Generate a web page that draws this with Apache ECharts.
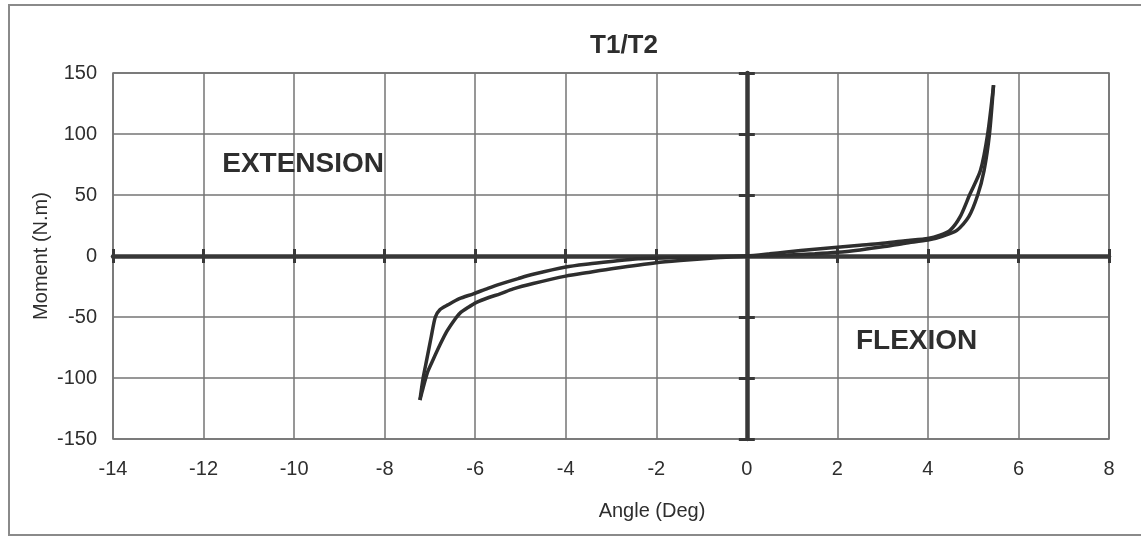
<!DOCTYPE html>
<html>
<head>
<meta charset="utf-8">
<script src="https://cdn.jsdelivr.net/npm/echarts@6/dist/echarts.min.js"></script>
<style>
  html, body { margin: 0; padding: 0; background: #fff; }
  #chart { width: 1141px; height: 537px; }
</style>
</head>
<body>
<div id="chart"></div>
<script>
// Moment–angle hysteresis loop for the T1/T2 segment.
// Branch A: upper path on the extension side, lower path on the flexion side.
const angleA  = [-7.22, -7.15, -7.07, -6.97, -6.88, -6.78, -6.60, -6.35, -6.04, -5.72, -5.45, -5.05, -4.72, -4.00, -3.50, -3.00, -2.40, -1.50, -0.70, 0.00,
                  0.50, 0.90, 1.50, 2.00, 2.50, 3.00, 3.50, 4.00, 4.30, 4.64, 4.90, 5.10, 5.24, 5.36, 5.45];
const momentA = [-118, -100, -85, -66, -50, -44, -40, -35, -31, -26.5, -23, -18.5, -15, -9, -6.5, -4.5, -2.3, -1.3, -0.6, 0,
                  0.4, 0.8, 1.8, 3.0, 5.0, 7.5, 10.5, 13, 16, 21, 32, 50, 70, 100, 140];

// Branch B: lower path on the extension side, upper path on the flexion side.
const angleB  = [-7.22, -7.15, -7.05, -6.93, -6.78, -6.63, -6.45, -6.34, -6.15, -5.97, -5.70, -5.45, -5.16, -4.72, -4.00, -3.50, -2.95, -2.00, -1.40, -0.80, 0.00,
                  0.50, 0.88, 1.50, 2.00, 2.50, 2.95, 3.50, 4.00, 4.27, 4.49, 4.71, 4.92, 5.16, 5.32, 5.45];
const momentB = [-118, -108, -95, -85, -73, -62, -52, -47, -42, -38, -34, -31, -27, -22.6, -16.5, -13.5, -10.3, -5.5, -3.5, -1.8, 0,
                  1.8, 3.3, 5.5, 7.2, 8.8, 10.2, 12.5, 14.3, 17, 21, 32, 50, 70, 100, 140];

// Axis ranges and annotation text
const xRange = { min: -14, max: 8, step: 2 };
const yRange = { min: -150, max: 150, step: 50 };
const titleText = 'T1/T2';
const xTitle = 'Angle (Deg)';
const yTitle = 'Moment (N.m)';
const regionLabels = [
  { text: 'EXTENSION', at: [-9.8, 75] },
  { text: 'FLEXION', at: [3.75, -70] }
];

const pairs = (xs, ys) => xs.map((x, i) => [x, ys[i]]);

const FONT = '"Liberation Sans", Arial, sans-serif';
const INK = '#2e2e2e';
const AXIS_INK = '#383838';
const GRID_INK = '#747474';

const baseX = { type: 'value', min: xRange.min, max: xRange.max, interval: xRange.step };
const baseY = { type: 'value', min: yRange.min, max: yRange.max, interval: yRange.step };

const chart = echarts.init(document.getElementById('chart'), null, { renderer: 'canvas' });

const option = {
  animation: false,
  backgroundColor: '#fff',
  title: {
    text: titleText,
    left: 619, top: 28, textAlign: 'center',
    textStyle: { fontFamily: FONT, fontSize: 26, fontWeight: 'bold', color: INK }
  },
  grid: {
    left: 113, right: 32, top: 73, bottom: 98,
    show: true, borderColor: '#6a6a6a', borderWidth: 1.5, backgroundColor: 'transparent'
  },
  xAxis: [
    // labelled axis along the bottom of the plot
    Object.assign({}, baseX, {
      position: 'bottom',
      axisLine: { show: false, onZero: false },
      axisTick: { show: false },
      axisLabel: { fontFamily: FONT, fontSize: 20, color: INK, margin: 20 },
      splitLine: { show: true, lineStyle: { color: GRID_INK, width: 1.5 } }
    }),
    // heavy zero line with ticks reaching upward
    Object.assign({}, baseX, {
      position: 'bottom',
      axisLine: { show: true, onZero: true, lineStyle: { color: AXIS_INK, width: 4.5 } },
      axisTick: { show: true, inside: true, length: 7, lineStyle: { color: AXIS_INK, width: 3 } },
      axisLabel: { show: false },
      splitLine: { show: false }
    }),
    // same ticks reaching downward
    Object.assign({}, baseX, {
      position: 'bottom',
      axisLine: { show: false, onZero: true },
      axisTick: { show: true, inside: false, length: 7, lineStyle: { color: AXIS_INK, width: 3 } },
      axisLabel: { show: false },
      splitLine: { show: false }
    })
  ],
  yAxis: [
    Object.assign({}, baseY, {
      position: 'left',
      axisLine: { show: false, onZero: false },
      axisTick: { show: false },
      axisLabel: { fontFamily: FONT, fontSize: 20, color: INK, margin: 16 },
      splitLine: { show: true, lineStyle: { color: GRID_INK, width: 1.5 } }
    }),
    Object.assign({}, baseY, {
      position: 'left',
      axisLine: { show: true, onZero: true, lineStyle: { color: AXIS_INK, width: 4.5 } },
      axisTick: { show: true, inside: true, length: 8, lineStyle: { color: AXIS_INK, width: 3 } },
      axisLabel: { show: false },
      splitLine: { show: false }
    }),
    Object.assign({}, baseY, {
      position: 'left',
      axisLine: { show: false, onZero: true },
      axisTick: { show: true, inside: false, length: 8, lineStyle: { color: AXIS_INK, width: 3 } },
      axisLabel: { show: false },
      splitLine: { show: false }
    })
  ],
  series: [
    {
      name: 'Branch A', type: 'line', xAxisIndex: 0, yAxisIndex: 0,
      data: pairs(angleA, momentA), showSymbol: false, smooth: 0.25, z: 5,
      lineStyle: { color: INK, width: 3.5 }
    },
    {
      name: 'Branch B', type: 'line', xAxisIndex: 0, yAxisIndex: 0,
      data: pairs(angleB, momentB), showSymbol: false, smooth: 0.25, z: 5,
      lineStyle: { color: INK, width: 3.5 }
    }
  ]
};

chart.setOption(option);

// Outer frame, axis titles and the region labels placed at data coordinates
const graphics = [
  {
    type: 'rect', silent: true, z: 0,
    shape: { x: 9, y: 5, width: 1145, height: 530 },
    style: { fill: 'none', stroke: '#8a8a8a', lineWidth: 2 }
  },
  {
    type: 'text', x: 652, y: 511,
    style: { text: xTitle, font: '20px ' + FONT, fill: INK, textAlign: 'center', textVerticalAlign: 'middle' }
  },
  {
    type: 'text', x: 41, y: 256, rotation: Math.PI / 2,
    style: { text: yTitle, font: '20px ' + FONT, fill: INK, textAlign: 'center', textVerticalAlign: 'middle' }
  }
];
regionLabels.forEach(r => {
  const p = chart.convertToPixel({ xAxisIndex: 0, yAxisIndex: 0 }, r.at);
  graphics.push({
    type: 'text', x: p[0], y: p[1], z: 10,
    style: { text: r.text, font: 'bold 28px ' + FONT, fill: INK, textAlign: 'center', textVerticalAlign: 'middle' }
  });
});
chart.setOption({ graphic: graphics });
</script>
</body>
</html>
